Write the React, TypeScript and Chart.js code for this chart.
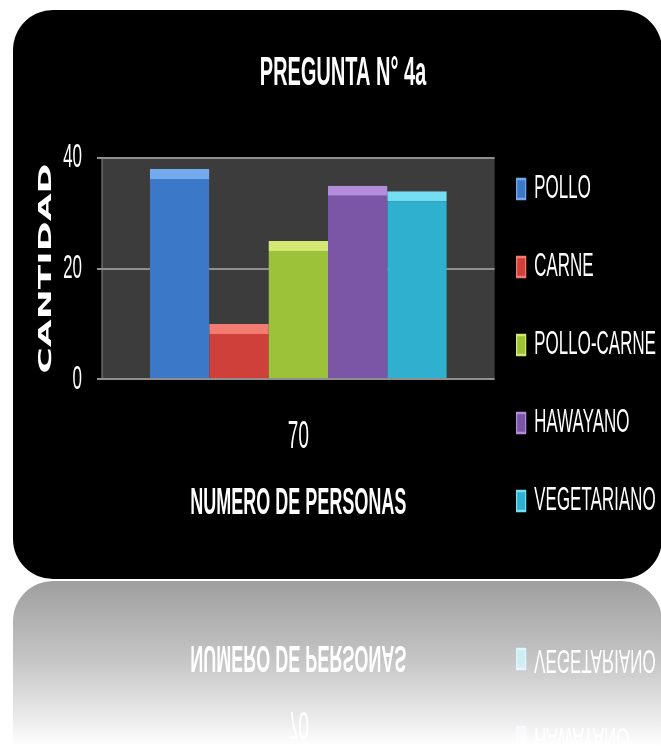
import React, { useEffect, useRef } from 'react';
import { Chart, registerables } from 'chart.js';

Chart.register(...registerables);

// ---- data ----
const categories = ['70'];
const seriesNames = ['POLLO', 'CARNE', 'POLLO-CARNE', 'HAWAYANO', 'VEGETARIANO'];
const polloValues = [38];
const carneValues = [10];
const polloCarneValues = [25];
const hawayanoValues = [35];
const vegetarianoValues = [34];
const yTickValues = [0, 20, 40];
const chartTitle = 'PREGUNTA N° 4a';
const yAxisTitle = 'CANTIDAD';
const xAxisTitle = 'NUMERO DE PERSONAS';

const seriesValues = [polloValues, carneValues, polloCarneValues, hawayanoValues, vegetarianoValues];
const baseColors = ['#3b78c8', '#cf403b', '#9cc23a', '#7b55a6', '#2fb0cf'];
const topColors = ['#74abee', '#f27b72', '#d2e872', '#b38ddb', '#74def3'];

const W = 1322; // logical width (displayed squeezed to 661)
const H = 580;
const RH = 166; // reflection height

export default function App() {
  const chartRef = useRef<HTMLCanvasElement>(null);
  const reflRef = useRef<HTMLCanvasElement>(null);

  useEffect(() => {
    const canvas = chartRef.current!;

    const backgroundPlugin = {
      id: 'bgPanel',
      beforeDraw(chart: any) {
        const ctx = chart.ctx;
        const x0 = 26, y0 = 10, x1 = 1324, y1 = 579, rx = 80, ry = 40;
        ctx.save();
        ctx.beginPath();
        ctx.moveTo(x0 + rx, y0);
        ctx.lineTo(x1 - rx, y0);
        ctx.ellipse(x1 - rx, y0 + ry, rx, ry, 0, -Math.PI / 2, 0);
        ctx.lineTo(x1, y1 - ry);
        ctx.ellipse(x1 - rx, y1 - ry, rx, ry, 0, 0, Math.PI / 2);
        ctx.lineTo(x0 + rx, y1);
        ctx.ellipse(x0 + rx, y1 - ry, rx, ry, 0, Math.PI / 2, Math.PI);
        ctx.lineTo(x0, y0 + ry);
        ctx.ellipse(x0 + rx, y0 + ry, rx, ry, 0, Math.PI, Math.PI * 1.5);
        ctx.closePath();
        ctx.fillStyle = '#000000';
        ctx.fill();
        const a = chart.chartArea;
        ctx.fillStyle = '#3c3c3c';
        ctx.fillRect(a.left, a.top, a.right - a.left, a.bottom - a.top);
        ctx.restore();
      },
    };

    const reflectionPlugin = {
      id: 'reflection',
      afterDraw(chart: any) {
        const refl = reflRef.current;
        if (!refl) return;
        const rctx = refl.getContext('2d')!;
        rctx.setTransform(1, 0, 0, 1, 0, 0);
        rctx.clearRect(0, 0, 661, RH);
        rctx.save();
        rctx.translate(0, RH);
        rctx.scale(1, -1);
        rctx.drawImage(chart.canvas, 0, H - RH, W, RH, 0, 0, 661, RH);
        rctx.restore();
        const g = rctx.createLinearGradient(0, 0, 0, RH);
        g.addColorStop(0, 'rgba(255,255,255,0.62)');
        g.addColorStop(0.5, 'rgba(255,255,255,0.78)');
        g.addColorStop(0.85, 'rgba(255,255,255,0.93)');
        g.addColorStop(1, 'rgba(255,255,255,1)');
        rctx.fillStyle = g;
        rctx.fillRect(0, 0, 661, RH);
      },
    };

    const chart = new Chart(canvas, {
      type: 'bar',
      data: {
        labels: categories,
        datasets: seriesNames.map((name, i) => ({
          label: name,
          data: seriesValues[i],
          backgroundColor: baseColors[i],
          borderColor: topColors[i],
          borderWidth: { top: 10, left: 0, right: 0, bottom: 0 },
          borderSkipped: 'bottom',
          categoryPercentage: 0.756,
          barPercentage: 1.0,
        })),
      },
      options: {
        responsive: false,
        animation: false,
        devicePixelRatio: 1,
        events: [],
        layout: { padding: { top: 50, left: 50, right: 0, bottom: 18 } },
        plugins: {
          tooltip: { enabled: false },
          title: {
            display: true,
            text: chartTitle,
            color: '#ffffff',
            font: { family: 'Liberation Sans', size: 40, weight: 'bold' },
            padding: { top: 0, bottom: 60 },
          },
          legend: {
            display: true,
            position: 'right',
            align: 'end',
            maxWidth: 420,
            labels: {
              color: '#ffffff',
              boxWidth: 18,
              boxHeight: 20,
              padding: 44,
              font: { family: 'Liberation Sans', size: 34 },
            },
          },
        },
        scales: {
          x: {
            grid: { display: false, drawTicks: false, tickLength: 0 },
            border: { display: false },
            ticks: {
              color: '#ffffff',
              padding: 36,
              font: { family: 'Liberation Sans', size: 38 },
            },
            title: {
              display: true,
              text: xAxisTitle,
              color: '#ffffff',
              font: { family: 'Liberation Sans', size: 36, weight: 'bold' },
              padding: { top: -14, bottom: 36 },
            },
          },
          y: {
            min: 0,
            max: 40,
            afterFit(scale: any) {
              scale.width = 154;
            },
            afterBuildTicks(scale: any) {
              scale.ticks = yTickValues.map((v) => ({ value: v }));
            },
            grid: { color: '#8f8f8f', lineWidth: 2, tickLength: 10, drawTicks: true },
            border: { display: true, color: '#8f8f8f', width: 2 },
            ticks: {
              color: '#ffffff',
              padding: 30,
              font: { family: 'Liberation Sans', size: 34 },
            },
            title: {
              display: true,
              text: yAxisTitle,
              color: '#ffffff',
              font: { family: 'DejaVu Sans', size: 36, weight: 'bold' },
              padding: { top: 21, bottom: 0 },
            },
          },
        },
      },
      plugins: [backgroundPlugin, reflectionPlugin],
    } as any);

    return () => chart.destroy();
  }, []);

  return (
    <div
      style={{
        position: 'fixed',
        left: 0,
        top: 0,
        width: 661,
        height: 746,
        background: '#ffffff',
        overflow: 'hidden',
      }}
    >
      <div
        style={{
          position: 'absolute',
          left: 0,
          top: 0,
          width: W,
          height: H,
          transform: 'scaleX(0.5)',
          transformOrigin: '0 0',
        }}
      >
        <canvas ref={chartRef} width={W} height={H} style={{ display: 'block', width: W, height: H }} />
      </div>
      <canvas
        ref={reflRef}
        width={661}
        height={RH}
        style={{ position: 'absolute', left: 0, top: H, display: 'block' }}
      />
    </div>
  );
}
